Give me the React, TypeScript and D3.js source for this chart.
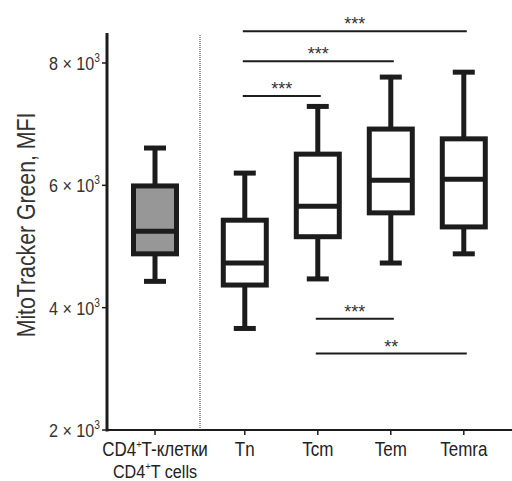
import React from 'react';
import * as d3 from 'd3';

// Box plot values (MFI)
const groups = ['CD4', 'Tn', 'Tcm', 'Tem', 'Temra'];
const slots = [0, 1.23, 2.23, 3.23, 4.23];
const whiskerLow = [4430, 3660, 4470, 4730, 4880];
const q1 = [4880, 4370, 5160, 5550, 5320];
const median = [5250, 4730, 5660, 6085, 6100];
const q3 = [5990, 5430, 6510, 6920, 6760];
const whiskerHigh = [6610, 6200, 7290, 7770, 7850];
const fills = ['#979797', '#ffffff', '#ffffff', '#ffffff', '#ffffff'];

const yTicks = [2, 4, 6, 8];

// significance brackets: from group index, to group index, label
const sigFrom = [1, 1, 1, 2, 2];
const sigTo = [4, 3, 2, 3, 4];
const sigLabel = ['***', '***', '***', '***', '**'];
const sigLevel = [8520, 8030, 7460, 3820, 3250];

const font = "'Liberation Sans', Arial, sans-serif";
const narrow = 0.85;

export default function App() {
  const width = 512;
  const height = 481;
  const left = 107;
  const bottom = 430;

  const y = d3.scaleLinear().domain([2000, 8000]).range([bottom, 63]);
  const x = d3.scaleLinear().domain([0, 1]).range([155, 228]);

  const boxW = 43;
  const capW = 22;
  const sw = 5;
  const ink = '#1c1c1c';

  return (
    <svg width={width} height={height} style={{ position: 'absolute', left: 0, top: 0 }}>
      {/* y axis */}
      <line x1={left} x2={left} y1={33} y2={bottom + 1.5} stroke={ink} strokeWidth={3} />
      {yTicks.map((t) => (
        <g key={t}>
          <line x1={left - 5} x2={left} y1={y(t * 1000)} y2={y(t * 1000)} stroke={ink} strokeWidth={1.5} />
          <text
            transform={`translate(${left - 7},${y(t * 1000) + 7}) scale(${narrow},1)`}
            textAnchor="end"
            fontFamily={font}
            fontSize={19}
            fill="#333"
          >
            {t} × 10
            <tspan fontSize={12} dy={-8}>3</tspan>
          </text>
        </g>
      ))}
      <text
        transform={`translate(35,225) rotate(-90) scale(${narrow},1)`}
        textAnchor="middle"
        fontFamily={font}
        fontSize={25}
        fill="#333"
      >
        MitoTracker Green, MFI
      </text>

      {/* x axis */}
      <line x1={left} x2={512} y1={bottom} y2={bottom} stroke={ink} strokeWidth={2} />
      {slots.map((s, i) => (
        <line key={i} x1={x(s)} x2={x(s)} y1={bottom} y2={bottom + 5} stroke={ink} strokeWidth={1.5} />
      ))}
      <text
        transform={`translate(${x(slots[0])},456) scale(${narrow},1)`}
        textAnchor="middle"
        fontFamily={font}
        fontSize={20}
        fill="#222"
      >
        CD4<tspan fontSize={11} dy={-8}>+</tspan>
        <tspan dy={8}>T-клетки</tspan>
      </text>
      <text
        transform={`translate(${x(slots[0])},478) scale(${narrow},1)`}
        textAnchor="middle"
        fontFamily={font}
        fontSize={19}
        fill="#222"
      >
        CD4<tspan fontSize={11} dy={-8}>+</tspan>
        <tspan dy={8}>T cells</tspan>
      </text>
      {groups.slice(1).map((g, i) => (
        <text
          key={g}
          transform={`translate(${x(slots[i + 1])},456) scale(${narrow},1)`}
          textAnchor="middle"
          fontFamily={font}
          fontSize={20}
          fill="#222"
        >
          {g}
        </text>
      ))}

      {/* dotted separator */}
      <line x1={200} x2={200} y1={35} y2={bottom} stroke="#333" strokeWidth={1} strokeDasharray="1,1" />

      {/* boxes */}
      {groups.map((g, i) => {
        const cx = x(slots[i]);
        return (
          <g key={g} stroke={ink} strokeWidth={sw}>
            <line x1={cx} x2={cx} y1={y(whiskerHigh[i])} y2={y(q3[i])} />
            <line x1={cx} x2={cx} y1={y(q1[i])} y2={y(whiskerLow[i])} />
            <line x1={cx - capW / 2} x2={cx + capW / 2} y1={y(whiskerHigh[i])} y2={y(whiskerHigh[i])} />
            <line x1={cx - capW / 2} x2={cx + capW / 2} y1={y(whiskerLow[i])} y2={y(whiskerLow[i])} />
            <rect x={cx - boxW / 2} y={y(q3[i])} width={boxW} height={y(q1[i]) - y(q3[i])} fill={fills[i]} />
            <line x1={cx - boxW / 2} x2={cx + boxW / 2} y1={y(median[i])} y2={y(median[i])} />
          </g>
        );
      })}

      {/* significance */}
      {sigLabel.map((lab, i) => {
        const x1 = x(slots[sigFrom[i]]) - 2;
        const x2 = x(slots[sigTo[i]]) + 3;
        const yy = y(sigLevel[i]);
        return (
          <g key={i}>
            <line x1={x1} x2={x2} y1={yy} y2={yy} stroke={ink} strokeWidth={2} />
            <text x={(x1 + x2) / 2} y={yy - 1} textAnchor="middle" fontFamily={font} fontSize={18} fill="#333">
              {lab}
            </text>
          </g>
        );
      })}
    </svg>
  );
}
